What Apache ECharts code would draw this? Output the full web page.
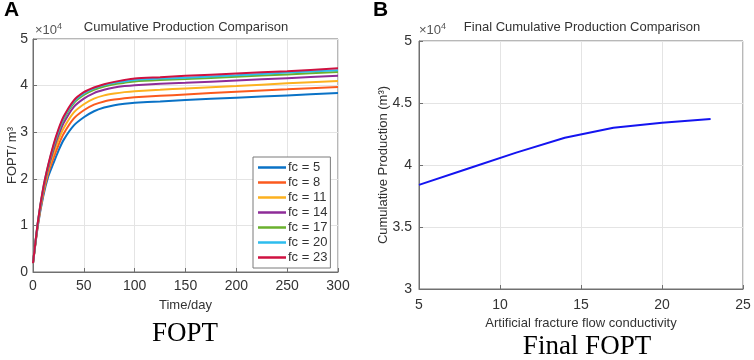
<!DOCTYPE html>
<html>
<head>
<meta charset="utf-8">
<script src="https://cdn.jsdelivr.net/npm/echarts@6/dist/echarts.min.js"></script>
<style>
  html, body { margin: 0; padding: 0; background: #fff; }
  #main { width: 754px; height: 360px; }
</style>
</head>
<body>
<div id="main"></div>
<script>
// time steps (day) and cumulative production (x1e4 m3) per fracture conductivity
var days = [0, 5, 10, 15, 20, 25, 30, 40, 50, 60, 70, 80, 90, 100, 125, 150, 200, 250, 300];
var fc5  = [0.19, 1.02, 1.62, 2.05, 2.33, 2.60, 2.83, 3.14, 3.32, 3.45, 3.53, 3.58, 3.61, 3.63, 3.66, 3.69, 3.74, 3.79, 3.84];
var fc8  = [0.19, 1.04, 1.66, 2.12, 2.44, 2.72, 2.96, 3.29, 3.47, 3.59, 3.66, 3.70, 3.73, 3.75, 3.78, 3.81, 3.87, 3.92, 3.97];
var fc11 = [0.19, 1.06, 1.71, 2.18, 2.53, 2.83, 3.08, 3.42, 3.60, 3.72, 3.79, 3.83, 3.86, 3.88, 3.91, 3.94, 3.99, 4.05, 4.10];
var fc14 = [0.19, 1.08, 1.75, 2.23, 2.61, 2.93, 3.19, 3.54, 3.72, 3.84, 3.91, 3.96, 3.99, 4.01, 4.04, 4.06, 4.11, 4.16, 4.21];
var fc17 = [0.19, 1.09, 1.77, 2.27, 2.67, 3.00, 3.27, 3.62, 3.80, 3.91, 3.98, 4.03, 4.06, 4.09, 4.12, 4.14, 4.19, 4.24, 4.29];
var fc20 = [0.19, 1.10, 1.79, 2.29, 2.70, 3.03, 3.30, 3.65, 3.83, 3.94, 4.01, 4.06, 4.09, 4.12, 4.15, 4.17, 4.22, 4.28, 4.33];
var fc23 = [0.19, 1.11, 1.80, 2.30, 2.72, 3.06, 3.33, 3.68, 3.86, 3.96, 4.03, 4.08, 4.12, 4.15, 4.18, 4.21, 4.26, 4.31, 4.37];

var fcNames = ['fc = 5', 'fc = 8', 'fc = 11', 'fc = 14', 'fc = 17', 'fc = 20', 'fc = 23'];
var fcColors = ['#0a72c6', '#fb5a1e', '#fcb11f', '#8e2c98', '#6ab12e', '#2dbdee', '#cf1140'];

// final cumulative production vs conductivity
var conductivity = [5, 8, 11, 14, 17, 20, 23];
var finalFopt = [3.84, 3.97, 4.10, 4.22, 4.30, 4.34, 4.37];

var chart = echarts.init(document.getElementById('main'));

var txt = '#333';
var axisCol = '#707070';
var gridCol = '#e4e4e4';
var font = 'Liberation Sans, Arial, sans-serif';

function pairs(xs, ys) {
  return xs.map(function (x, i) { return [x, ys[i]]; });
}

function axisBase(min, max, interval) {
  return {
    type: 'value', min: min, max: max, interval: interval,
    nameMoveOverlap: false,
    axisLine: { show: true, lineStyle: { color: axisCol, width: 1 } },
    axisTick: { show: true, inside: true, length: 4, lineStyle: { color: axisCol } },
    splitLine: { show: true, lineStyle: { color: gridCol, width: 1 } },
    axisLabel: { color: txt, fontSize: 14, fontFamily: font, margin: 7 },
    nameTextStyle: { color: txt, fontSize: 13, fontFamily: font }
  };
}

var curves = [fc5, fc8, fc11, fc14, fc17, fc20, fc23];
var series = curves.map(function (c, i) {
  return {
    name: fcNames[i], type: 'line', xAxisIndex: 0, yAxisIndex: 0,
    data: pairs(days, c), smooth: 0.25, symbol: 'none',
    lineStyle: { color: fcColors[i], width: 2 }, itemStyle: { color: fcColors[i] }
  };
});
series.push({
  name: 'final', type: 'line', xAxisIndex: 1, yAxisIndex: 1,
  data: pairs(conductivity, finalFopt), symbol: 'none',
  lineStyle: { color: '#1414f0', width: 2 }
});

var xl = axisBase(0, 300, 50);
xl.gridIndex = 0; xl.name = 'Time/day'; xl.nameLocation = 'middle'; xl.nameGap = 27;
var yl = axisBase(0, 5, 1);
yl.gridIndex = 0; yl.name = 'FOPT/ m³'; yl.nameLocation = 'middle'; yl.nameGap = 14;
yl.axisLabel = Object.assign({}, yl.axisLabel, { margin: 5 });
var xr = axisBase(5, 25, 5);
xr.gridIndex = 1; xr.name = 'Artificial fracture flow conductivity'; xr.nameLocation = 'middle'; xr.nameGap = 28;
xr.axisLabel = Object.assign({}, xr.axisLabel, { margin: 9 });
var yr = axisBase(3, 5, 0.5);
yr.gridIndex = 1; yr.name = 'Cumulative Production (m³)'; yr.nameLocation = 'middle'; yr.nameGap = 29;

var sup = {
  a: { fontSize: 13, fontFamily: font, fill: '#555' },
  b: { fontSize: 9, fontFamily: font, fill: '#555', verticalAlign: 'top', padding: [0, 0, 8, 0] }
};

chart.setOption({
  animation: false,
  backgroundColor: '#fff',
  grid: [
    { left: 33, top: 39, width: 305, height: 233, show: true, borderColor: axisCol, borderWidth: 1 },
    { left: 419, top: 41, width: 324, height: 248, show: true, borderColor: axisCol, borderWidth: 1 }
  ],
  xAxis: [xl, xr],
  yAxis: [yl, yr],
  legend: {
    data: fcNames, orient: 'vertical', left: 253, top: 157,
    icon: 'rect', itemWidth: 28, itemHeight: 2.5, itemGap: 2,
    padding: [4, 3, 4, 5],
    backgroundColor: '#fff', borderColor: '#7a7a7a', borderWidth: 1,
    textStyle: { color: txt, fontSize: 13, fontFamily: font, padding: [0, 0, 0, -3], lineHeight: 12.7 }
  },
  graphic: [
    { type: 'text', left: 4, top: 0, style: { text: 'A', font: 'bold 21px Liberation Sans, Arial', fill: '#000' } },
    { type: 'text', left: 373, top: 0, style: { text: 'B', font: 'bold 21px Liberation Sans, Arial', fill: '#000' } },
    { type: 'text', x: 186, y: 27, style: { text: 'Cumulative Production Comparison', font: '13px ' + font, fill: txt, align: 'center', verticalAlign: 'middle' } },
    { type: 'text', x: 582, y: 27, style: { text: 'Final Cumulative Production Comparison', font: '13px ' + font, fill: txt, align: 'center', verticalAlign: 'middle' } },
    { type: 'text', x: 35, y: 22, style: { text: '{a|×10}{b|4}', rich: sup } },
    { type: 'text', x: 419, y: 22, style: { text: '{a|×10}{b|4}', rich: sup } },
    { type: 'text', x: 185, y: 334, style: { text: 'FOPT', font: '27px Liberation Serif, Times New Roman, serif', fill: '#000', align: 'center', verticalAlign: 'middle' } },
    { type: 'text', x: 587, y: 347, style: { text: 'Final FOPT', font: '27px Liberation Serif, Times New Roman, serif', fill: '#000', align: 'center', verticalAlign: 'middle' } }
  ],
  series: series
});
</script>
</body>
</html>
